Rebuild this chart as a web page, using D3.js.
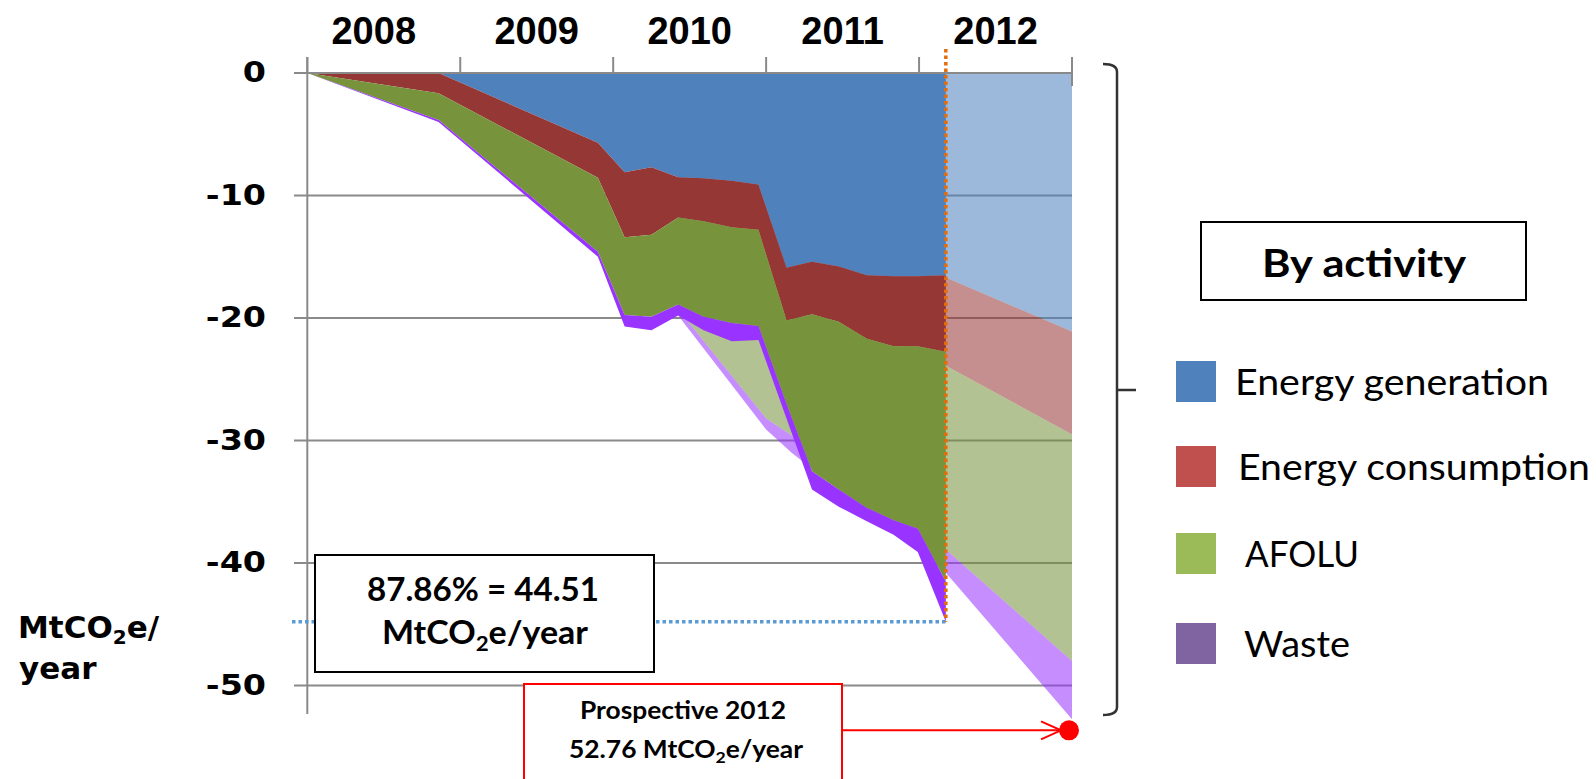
<!DOCTYPE html>
<html><head><meta charset="utf-8">
<script src="https://cdn.jsdelivr.net/npm/d3@7"></script>
<style>html,body{margin:0;padding:0;background:#fff;overflow:hidden}</style>
</head><body>
<svg id="chart" width="1596" height="779"></svg>
<script>
// ---------- DATA ----------
// x positions in months since Jan 2008
const months = [0, 10.3, 22.8, 24.9, 27.0, 29.1, 31.1, 33.3, 35.4, 37.6, 39.6, 41.7, 43.9, 46.0, 47.9, 50.1];
// contributions per activity (MtCO2e/year, negative = reduction)
const energyGeneration  = [0, 0, -5.7, -8.1, -7.7, -8.5, -8.6, -8.8, -9.1, -15.9, -15.4, -15.8, -16.5, -16.6, -16.6, -16.5];
const energyConsumption = [0, -1.66, -2.85, -5.3, -5.5, -3.3, -3.5, -3.8, -3.7, -4.3, -4.3, -4.5, -5.2, -5.7, -5.7, -6.25];
const afolu             = [0, -2.18, -6.05, -6.35, -6.7, -7.1, -7.8, -7.8, -7.85, -6.8, -12.8, -13.7, -13.8, -14.2, -14.9, -18.75];
const waste             = [0, -0.15, -0.4, -0.95, -1.1, -0.9, -1.1, -1.5, -1.15, -1.2, -1.5, -1.4, -1.1, -1.2, -1.9, -3.3];

// prospective (light) layer
const prospMonths       = [29.1, 36.0, 38.0, 50.1, 60];
const prospEnergyGen    = [-8.5, -12, -13, -16.7, -21.1];
const prospEnergyCons   = [-3.5, -5, -5.5, -7.2, -8.4];
const prospAfolu        = [-7.3, -11.2, -11.1, -15.0, -18.5];
const prospWaste        = [-0.5, -0.9, -1.4, -1.9, -4.76];

const yearLabels = ["2008", "2009", "2010", "2011", "2012"];
const yearTickMonths = [0, 12, 24, 36, 48, 60];
const yTicks = [0, -10, -20, -30, -40, -50];
const legendLabels = ["Energy generation", "Energy consumption", "AFOLU", "Waste"];
const legendColors = ["#4F81BD", "#C0504D", "#9BBB59", "#8064A2"];
const areaColors = ["#4F81BD", "#953735", "#77933C", "#9933FF"];
const achievedLevel = -44.8;      // dotted blue line level
const cutoffMonth = 50.1;         // orange dotted line
const prospectiveEnd = -52.76;

// ---------- SETUP ----------
const svg = d3.select("#chart");
const x = d3.scaleLinear().domain([0, 60]).range([307.3, 1072]);
const y = d3.scaleLinear().domain([0, -50]).range([73, 685.5]);
const keys = ["gen", "cons", "afolu", "waste"];

const actualRows = months.map((m, i) => ({m, gen: energyGeneration[i], cons: energyConsumption[i], afolu: afolu[i], waste: waste[i]}));
const prospRows = prospMonths.map((m, i) => ({m, gen: prospEnergyGen[i], cons: prospEnergyCons[i], afolu: prospAfolu[i], waste: prospWaste[i]}));
const stack = d3.stack().keys(keys).offset(d3.stackOffsetDiverging);
const area = d3.area().x(d => x(d.data.m)).y0(d => y(d[0])).y1(d => y(d[1]));

// gridlines (with left tick extension)
svg.append("g").selectAll("line").data(yTicks.filter(t => t !== 0)).join("line")
  .attr("x1", 294).attr("x2", x(60)).attr("y1", d => y(d)).attr("y2", d => y(d))
  .attr("stroke", "#8a8a8a").attr("stroke-width", 2);

// prospective light layer
svg.append("g").selectAll("path").data(stack(prospRows)).join("path")
  .attr("d", area).attr("fill", (d, i) => areaColors[i]).attr("fill-opacity", 0.56);

// actual layer
svg.append("g").selectAll("path").data(stack(actualRows)).join("path")
  .attr("d", area).attr("fill", (d, i) => areaColors[i]);

// zero line / top axis
svg.append("line").attr("x1", 294).attr("x2", x(60)).attr("y1", y(0)).attr("y2", y(0))
  .attr("stroke", "#8a8a8a").attr("stroke-width", 2);
svg.append("g").selectAll("line").data(yearTickMonths).join("line")
  .attr("x1", d => x(d)).attr("x2", d => x(d))
  .attr("y1", 57).attr("y2", (d, i) => i === yearTickMonths.length - 1 ? 86 : y(0))
  .attr("stroke", "#8a8a8a").attr("stroke-width", 2);
// y axis line
svg.append("line").attr("x1", x(0)).attr("x2", x(0)).attr("y1", 57).attr("y2", 714)
  .attr("stroke", "#8a8a8a").attr("stroke-width", 2);

// year labels
svg.append("g").selectAll("text").data(yearLabels).join("text")
  .attr("x", (d, i) => x(yearTickMonths[i] + 6) - (i === 0 ? 10 : 0)).attr("y", 44)
  .attr("text-anchor", "middle")
  .attr("font-family", "'Liberation Sans', Arial, sans-serif").attr("font-weight", "bold")
  .attr("font-size", 38).text(d => d);

// y tick labels (horizontally stretched)
svg.append("g").selectAll("text").data(yTicks).join("text")
  .attr("transform", d => `translate(266,${y(d) + 9}) scale(1.19,1)`)
  .attr("text-anchor", "end")
  .attr("font-family", "'DejaVu Sans', Verdana, sans-serif").attr("font-weight", "bold")
  .attr("font-size", 28).attr("fill", "#000").text(d => d);

// y axis title
const yt = svg.append("text").attr("x", 18).attr("y", 638)
  .attr("font-family", "'DejaVu Sans', Verdana, sans-serif").attr("font-weight", "bold").attr("font-size", 31);
yt.append("tspan").text("MtCO");
yt.append("tspan").attr("font-size", 20).attr("dy", 6).text("2");
yt.append("tspan").attr("dy", -6).text("e/");
svg.append("text").attr("x", 19).attr("y", 679)
  .attr("font-family", "'DejaVu Sans', Verdana, sans-serif").attr("font-weight", "bold").attr("font-size", 31).text("year");

// dotted lines
svg.append("line").attr("x1", 292).attr("x2", x(cutoffMonth)).attr("y1", y(achievedLevel)).attr("y2", y(achievedLevel))
  .attr("stroke", "#5B9BD5").attr("stroke-width", 3.5).attr("stroke-dasharray", "3.5 3");
svg.append("line").attr("x1", x(cutoffMonth)).attr("x2", x(cutoffMonth)).attr("y1", 49).attr("y2", y(achievedLevel))
  .attr("stroke", "#E46C0A").attr("stroke-width", 3.5).attr("stroke-dasharray", "3.5 3");

// achieved box
svg.append("rect").attr("x", 315).attr("y", 555).attr("width", 339).attr("height", 117)
  .attr("fill", "#fff").attr("stroke", "#000").attr("stroke-width", 2);
const calib = "Lato, 'Open Sans', sans-serif";
svg.append("text").attr("x", 483).attr("y", 601).attr("text-anchor", "middle")
  .attr("font-family", calib).attr("font-weight", "bold").attr("font-size", 32)
  .attr("textLength", 232).attr("lengthAdjust", "spacingAndGlyphs").text("87.86% = 44.51");
const b2 = svg.append("text").attr("x", 485).attr("y", 644).attr("text-anchor", "middle")
  .attr("font-family", calib).attr("font-weight", "bold").attr("font-size", 32)
  .attr("textLength", 206).attr("lengthAdjust", "spacingAndGlyphs");
b2.append("tspan").text("MtCO");
b2.append("tspan").attr("font-size", 21).attr("dy", 7).text("2");
b2.append("tspan").attr("dy", -7).text("e/year");

// prospective box
svg.append("rect").attr("x", 524).attr("y", 684).attr("width", 318).attr("height", 110)
  .attr("fill", "#fff").attr("stroke", "#FF0000").attr("stroke-width", 2);
svg.append("text").attr("x", 683).attr("y", 719).attr("text-anchor", "middle")
  .attr("font-family", calib).attr("font-weight", "bold").attr("font-size", 24)
  .attr("textLength", 206).attr("lengthAdjust", "spacingAndGlyphs").text("Prospective 2012");
const p2 = svg.append("text").attr("x", 686).attr("y", 758).attr("text-anchor", "middle")
  .attr("font-family", calib).attr("font-weight", "bold").attr("font-size", 24)
  .attr("textLength", 234).attr("lengthAdjust", "spacingAndGlyphs");
p2.append("tspan").text("52.76 MtCO");
p2.append("tspan").attr("font-size", 16).attr("dy", 5).text("2");
p2.append("tspan").attr("dy", -5).text("e/year");

// arrow + dot
const ay = y(prospectiveEnd) + 11;
svg.append("line").attr("x1", 842).attr("x2", x(60) - 11).attr("y1", ay).attr("y2", ay)
  .attr("stroke", "#FF0000").attr("stroke-width", 2);
svg.append("path").attr("d", `M${x(60) - 31},${ay - 9} L${x(60) - 11},${ay} L${x(60) - 31},${ay + 9}`)
  .attr("fill", "none").attr("stroke", "#FF0000").attr("stroke-width", 2);
svg.append("circle").attr("cx", x(60) - 3).attr("cy", ay).attr("r", 10).attr("fill", "#FF0000");

// bracket
svg.append("path").attr("d", "M1103,64 Q1117,64 1117,72 L1117,707 Q1117,715 1103,715 M1117,390 L1136,390")
  .attr("fill", "none").attr("stroke", "#333").attr("stroke-width", 2.5);

// legend title box
svg.append("rect").attr("x", 1201).attr("y", 222).attr("width", 325).attr("height", 78)
  .attr("fill", "#fff").attr("stroke", "#000").attr("stroke-width", 2);
svg.append("text").attr("x", 1364).attr("y", 277).attr("text-anchor", "middle")
  .attr("font-family", calib).attr("font-weight", "bold").attr("font-size", 39)
  .attr("textLength", 204).attr("lengthAdjust", "spacingAndGlyphs").text("By activity");

// legend items
const legendY = [361, 446, 533, 623];
const legendTextX = [1235, 1238, 1245, 1244];
const legendTextW = [314, 352, 114, 106];
const leg = svg.append("g").selectAll("g").data(legendLabels).join("g");
leg.append("rect").attr("x", 1176).attr("y", (d, i) => legendY[i]).attr("width", 40).attr("height", 41)
  .attr("fill", (d, i) => legendColors[i]);
leg.append("text").attr("x", (d, i) => legendTextX[i]).attr("y", (d, i) => legendY[i] + 34)
  .attr("font-family", calib).attr("font-size", 37)
  .attr("textLength", (d, i) => legendTextW[i]).attr("lengthAdjust", "spacingAndGlyphs")
  .text(d => d);
</script>
</body></html>
